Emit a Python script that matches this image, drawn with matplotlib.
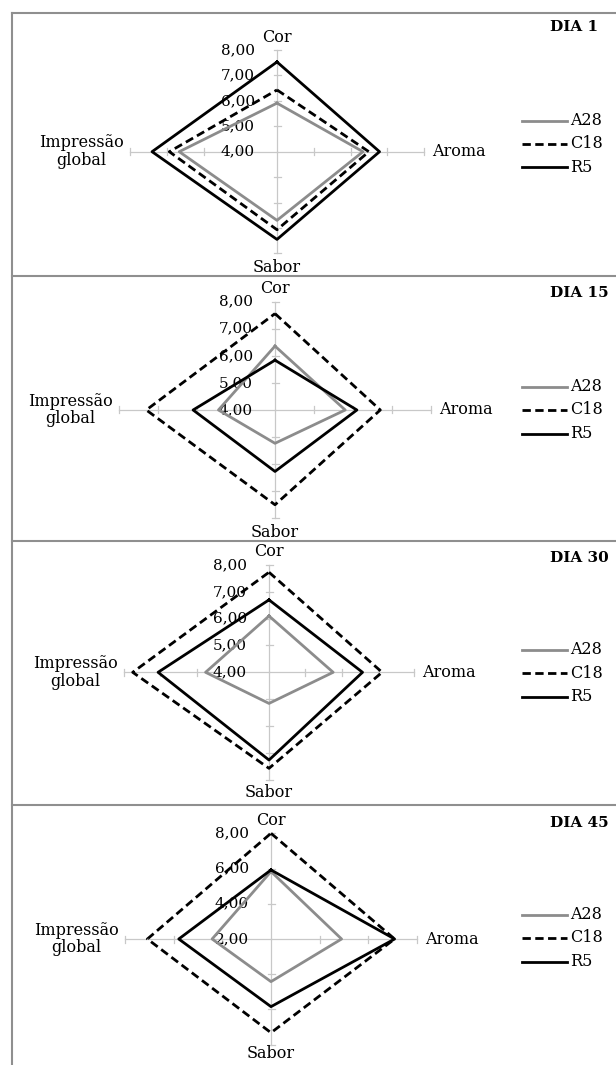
import matplotlib
matplotlib.use('Agg')
import matplotlib.pyplot as plt
from matplotlib.lines import Line2D
from matplotlib.transforms import offset_copy

plt.rcParams['font.family'] = 'DejaVu Serif'

# data
categories = ['Cor', 'Aroma', 'Sabor', 'Impressão\nglobal']
days = ['DIA 1', 'DIA 15', 'DIA 30', 'DIA 45']
series_names = ['A28', 'C18', 'R5']

a28 = [[5.91, 6.34, 6.70, 6.66],
       [6.36, 5.80, 5.23, 5.45],
       [6.10, 5.77, 5.16, 5.75],
       [5.83, 4.90, 4.42, 4.42]]
c18 = [[6.43, 6.50, 7.07, 6.93],
       [7.56, 6.70, 7.50, 7.30],
       [7.73, 7.12, 7.58, 7.76],
       [8.00, 7.08, 7.32, 7.08]]
r5 = [[7.53, 6.79, 7.45, 7.40],
      [5.84, 6.10, 6.27, 6.10],
      [6.70, 6.58, 7.27, 7.06],
      [5.92, 7.08, 5.84, 5.79]]

scale_min = [4, 4, 4, 2]
scale_max = [8, 8, 8, 8]
scale_step = [1, 1, 1, 2]

# layout (pixels)
W, H = 616, 1065
centers = [(277, 151.7), (275, 410), (269, 672.3), (271, 939)]
half_x = [147, 156, 145, 146]
half_y = [101.7, 108.3, 107.3, 105.7]
legend_y = [144, 410, 673, 938]
title_y = [27, 293, 558, 823]
frame_y = [12.7, 276, 540.7, 805.3]
sabor_off = [-14, -14, -13, -9]

dirs = [(0, 1), (1, 0), (0, -1), (-1, 0)]
styles = [dict(color='#8c8c8c', ls='-'),
          dict(color='black', ls=(0, (3, 1.6))),
          dict(color='black', ls='-')]
LW = 2.0
AXC = '#c8c8c8'

fig = plt.figure(figsize=(W / 100, H / 100), dpi=100)


def fx(x):
    return x / W


def fy(y):
    return 1 - y / H


# panel frame
for y in frame_y:
    fig.add_artist(Line2D([fx(11.7), 1], [fy(y), fy(y)], color='#8f8f8f', lw=1.5))
fig.add_artist(Line2D([fx(11.7), fx(11.7)], [fy(frame_y[0]), 0], color='#8f8f8f', lw=1.5))

for p in range(4):
    cx, cy = centers[p]
    hx, hy = half_x[p], half_y[p]
    vmin, vmax, step = scale_min[p], scale_max[p], scale_step[p]
    R = vmax - vmin
    ax = fig.add_axes([fx(cx - hx), fy(cy + hy), 2 * hx / W, 2 * hy / H])
    ax.set_xlim(-R, R)
    ax.set_ylim(-R, R)
    ax.axis('off')

    ppx = hx / R
    ppy = hy / R
    ticks = [vmin + step * i for i in range(int(R / step) + 1)]

    # spokes and tick marks
    for dx, dy in dirs:
        ax.plot([0, dx * R], [0, dy * R], color=AXC, lw=0.9, zorder=1, clip_on=False)
        for t in ticks[1:]:
            r = t - vmin
            if dx == 0:
                ax.plot([-3.5 / ppx, 3.5 / ppx], [dy * r, dy * r], color=AXC, lw=0.9,
                        zorder=1, clip_on=False)
            else:
                ax.plot([dx * r, dx * r], [-3.5 / ppy, 3.5 / ppy], color=AXC, lw=0.9,
                        zorder=1, clip_on=False)

    # scale labels on the Cor axis
    tr = offset_copy(ax.transData, fig=fig, x=-22, y=0, units='dots')
    for t in ticks:
        ax.text(0, t - vmin, '{:.2f}'.format(t).replace('.', ','), transform=tr,
                ha='right', va='center', fontsize=11, zorder=1)

    # category labels
    offs = [(0, 13), (8, 0), (0, sabor_off[p]), (-6, 0)]
    has = ['center', 'left', 'center', 'right']
    for k, cat in enumerate(categories):
        dx, dy = dirs[k]
        tr = offset_copy(ax.transData, fig=fig, x=offs[k][0], y=offs[k][1], units='dots')
        ax.text(dx * R, dy * R, cat, transform=tr, ha=has[k], va='center',
                multialignment='center', linespacing=1.05, fontsize=11.5, zorder=1)

    # series
    for s, vals in enumerate([a28[p], c18[p], r5[p]]):
        xs = [dirs[k][0] * (v - vmin) for k, v in enumerate(vals)]
        ys = [dirs[k][1] * (v - vmin) for k, v in enumerate(vals)]
        xs.append(xs[0])
        ys.append(ys[0])
        ax.plot(xs, ys, lw=LW, zorder=3 + s, clip_on=False, **styles[s])

    # legend
    for s, name in enumerate(series_names):
        y = legend_y[p] + (s - 1) * 23.5
        fig.add_artist(Line2D([fx(522), fx(567)], [fy(y), fy(y)], lw=LW, **styles[s]))
        fig.text(fx(570), fy(y), name, ha='left', va='center', fontsize=11.5)

    fig.text(fx(550), fy(title_y[p]), days[p], ha='left', va='center',
             fontsize=11, fontweight='bold')

fig.savefig('out.png', dpi=100)
